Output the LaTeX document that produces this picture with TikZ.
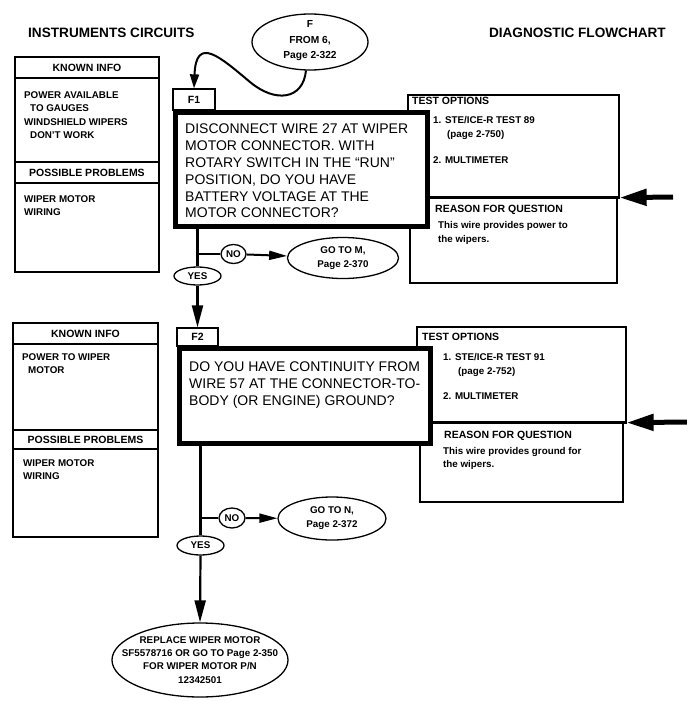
\documentclass[tikz,border=0pt]{standalone}
\usepackage{fontspec}
\setmainfont{Liberation Sans}
\usetikzlibrary{arrows.meta,shapes.geometric}
\begin{document}
\begin{tikzpicture}[x=1pt,y=-1pt,
  title/.style={font=\fontsize{13.6}{16}\selectfont\bfseries, inner sep=0},
  hdr/.style={font=\fontsize{10.5}{13}\selectfont\bfseries, inner sep=0},
  small/.style={font=\fontsize{9.8}{13.3}\selectfont\bfseries, inner sep=0, align=left, anchor=north west},
  big/.style={font=\fontsize{14}{16.8}\selectfont, inner sep=0, align=left, anchor=north west},
  cellbox/.style={draw, line width=1.3pt, inner sep=0},
  tab/.style={draw, line width=1.3pt, inner sep=0, font=\fontsize{10.5}{13}\selectfont\bfseries},
  qbox/.style={draw, line width=5pt, fill=white, inner sep=0},
  oval/.style={draw, ellipse, line width=1.3pt, inner sep=0},
  ovtext/.style={font=\fontsize{9.8}{14}\selectfont\bfseries, inner sep=0, align=center},
  conn/.style={line width=2.2pt},
  arr/.style={line width=2.2pt, -{Triangle[length=22pt,width=11pt]}},
  midarrow/.style={line width=2pt, -{Triangle[length=18pt,width=9pt]}},
  bigarrow/.style={line width=5pt, -{Triangle[length=27pt,width=16pt]}},
  curvearrow/.style={line width=2pt, -{Triangle[length=14pt,width=9pt]}}
]
\useasboundingbox (0,0) rectangle (687,701);

% titles
\node[title, anchor=west] (tl) at (28,33) {INSTRUMENTS CIRCUITS};
\node[title, anchor=east] (tr) at (666,33) {DIAGNOSTIC FLOWCHART};

% left box 1
\node[cellbox, hdr, minimum width=144, minimum height=21] (kh1) at (87,67.5) {KNOWN INFO};
\node[cellbox, minimum width=144, minimum height=84] (kb1) at (87,120) {};
\node[cellbox, hdr, minimum width=144, minimum height=21] (ph1) at (87,172.5) {POSSIBLE PROBLEMS};
\node[cellbox, minimum width=144, minimum height=89] (pb1) at (87,227.5) {};
\node[small] (kt1) at (24,91.5) {POWER AVAILABLE\\\hspace*{6pt}TO GAUGES\\WINDSHIELD WIPERS\\\hspace*{6pt}DON'T WORK};
\node[small] (pt1) at (24,195.5) {WIPER MOTOR\\WIRING};

% left box 2
\node[cellbox, hdr, minimum width=145, minimum height=21] (kh2) at (85.5,333.5) {KNOWN INFO};
\node[cellbox, minimum width=145, minimum height=86] (kb2) at (85.5,387) {};
\node[cellbox, hdr, minimum width=145, minimum height=19] (ph2) at (85.5,439.5) {POSSIBLE PROBLEMS};
\node[cellbox, minimum width=145, minimum height=88] (pb2) at (85.5,493) {};
\node[small] (kt2) at (22,353.5) {POWER TO WIPER\\\hspace*{6pt}MOTOR};
\node[small] (pt2) at (23,459.5) {WIPER MOTOR\\WIRING};

% test options 1
\node[cellbox, minimum width=211, minimum height=102] (to1) at (513.5,146) {};
\node[cellbox, minimum width=207, minimum height=86] (rq1) at (513.5,240) {};
\draw[line width=3pt] (to1.south west) -- (to1.south east);
\node[hdr, anchor=north west] (toh1) at (412,97) {TEST OPTIONS};
\node[small] (tot1) at (433,116.5) {1. STE/ICE-R TEST 89\\\hspace*{14pt}(page 2-750)\\[13.5pt]2. MULTIMETER};
\node[hdr, anchor=north west] (rqh1) at (435,205) {REASON FOR QUESTION};
\node[small, font=\fontsize{9.8}{13.8}\selectfont\bfseries] (rqt1) at (438,221.5) {This wire provides power to\\the wipers.};
\coordinate (ar1) at (673,197);
\draw[bigarrow] (ar1) -- (to1.south east);

% test options 2
\node[cellbox, minimum width=209, minimum height=95] (to2) at (521.5,374.5) {};
\node[cellbox, minimum width=203, minimum height=80] (rq2) at (521.5,462) {};
\draw[line width=3pt] (to2.south west) -- (to2.south east);
\node[hdr, anchor=north west] (toh2) at (422,332.5) {TEST OPTIONS};
\node[small, font=\fontsize{9.8}{13.8}\selectfont\bfseries] (tot2) at (443,353.5) {1. STE/ICE-R TEST 91\\\hspace*{15pt}(page 2-752)\\[11pt]2. MULTIMETER};
\node[hdr, anchor=north west] (rqh2) at (444,431) {REASON FOR QUESTION};
\node[small, font=\fontsize{9.8}{13}\selectfont\bfseries] (rqt2) at (443,447.5) {This wire provides ground for\\the wipers.};
\coordinate (ar2) at (687,422);
\draw[bigarrow] (ar2) -- (to2.south east);

% F1 question
\node[tab, minimum width=42, minimum height=21] (t1) at (194,99.5) {F1};
\node[qbox, minimum width=252, minimum height=114] (q1) at (301.5,169.5) {};
\node[big] (q1t) at (185,124) {DISCONNECT WIRE 27 AT WIPER\\MOTOR CONNECTOR. WITH\\ROTARY SWITCH IN THE “RUN”\\POSITION, DO YOU HAVE\\BATTERY VOLTAGE AT THE\\MOTOR CONNECTOR?};

% F2 question
\node[tab, minimum width=41, minimum height=18] (t2) at (197.5,337) {F2};
\node[qbox, minimum width=251, minimum height=95] (q2) at (305,396) {};
\node[big] (q2t) at (189,362) {DO YOU HAVE CONTINUITY FROM\\WIRE 57 AT THE CONNECTOR-TO-\\BODY (OR ENGINE) GROUND?};

% entry ellipse F
\node[oval, minimum width=116, minimum height=56] (F) at (310,42) {};
\node[ovtext, font=\fontsize{10.2}{15.5}\selectfont\bfseries] (Ft) at (310,41) {F\\FROM 6,\\Page 2-322};
\draw[curvearrow] (F.262) .. controls (303,100) and (275,103) .. (250,82)
   .. controls (220,57) and (196,35) .. (t1.north);

% F1 outcomes
\node[oval, minimum width=25, minimum height=19] (no1) at (233.5,254) {};
\node[ovtext] (no1t) at (no1.center) {NO};
\node[oval, minimum width=111, minimum height=41] (M) at (343,258) {};
\node[ovtext] (Mt) at (M.center) {GO TO M,\\Page 2-370};
\node[oval, minimum width=47, minimum height=18] (yes1) at (197.5,276) {};
\node[ovtext] (yes1t) at (yes1.center) {YES};
\draw[conn] (q1.south -| yes1.north) -- (yes1.north);
\draw[conn] (no1.west -| yes1.north) -- (no1.west);
\draw[midarrow] (no1) -- (M);
\draw[arr] (yes1.south) -- (t2.north);

% F2 outcomes
\node[oval, minimum width=26, minimum height=20] (no2) at (232,518) {};
\node[ovtext] (no2t) at (no2.center) {NO};
\node[oval, minimum width=108, minimum height=43] (N) at (332,518.5) {};
\node[ovtext] (Nt) at (N.center) {GO TO N,\\Page 2-372};
\node[oval, minimum width=47, minimum height=19] (yes2) at (200.5,545.5) {};
\node[ovtext] (yes2t) at (yes2.center) {YES};
\draw[conn] (q2.south -| yes2.north) -- (yes2.north);
\draw[conn] (no2.west -| yes2.north) -- (no2.west);
\draw[midarrow] (no2) -- (N);

% final
\node[oval, minimum width=176, minimum height=74] (R) at (200,660) {};
\node[ovtext, font=\fontsize{9.8}{13.2}\selectfont\bfseries] (Rt) at (R.center) {REPLACE WIPER MOTOR\\SF5578716 OR GO TO Page 2-350\\FOR WIPER MOTOR P/N\\12342501};
\draw[arr] (yes2.south) -- (R.north);
\end{tikzpicture}
\end{document}
